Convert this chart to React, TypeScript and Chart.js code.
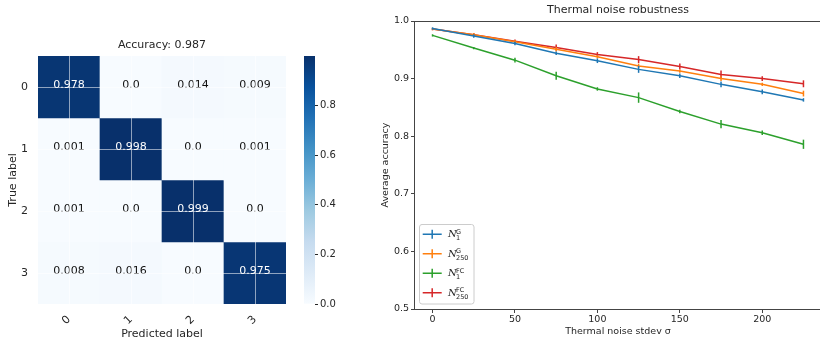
import React, { useEffect, useRef } from 'react';
import { Chart, registerables } from 'chart.js';

Chart.register(...registerables);

// ---------- Confusion matrix data ----------
const classLabels = ['0', '1', '2', '3'];
const cmRow0 = [0.978, 0.0, 0.014, 0.009];
const cmRow1 = [0.001, 0.998, 0.0, 0.001];
const cmRow2 = [0.001, 0.0, 0.999, 0.0];
const cmRow3 = [0.008, 0.016, 0.0, 0.975];
const cmRows = [cmRow0, cmRow1, cmRow2, cmRow3];
const cmTitle = 'Accuracy: 0.987';
const colorbarTicks = [0.0, 0.2, 0.4, 0.6, 0.8];

// ---------- Thermal noise data ----------
const noiseSigma = [0, 25, 50, 75, 100, 125, 150, 175, 200, 225];
const accG1 = [0.987, 0.974, 0.961, 0.944, 0.931, 0.916, 0.905, 0.890, 0.877, 0.863];
const errG1 = [0.002, 0.003, 0.003, 0.003, 0.004, 0.006, 0.004, 0.005, 0.004, 0.003];
const accG250 = [0.986, 0.976, 0.964, 0.951, 0.938, 0.922, 0.913, 0.900, 0.890, 0.874];
const errG250 = [0.002, 0.003, 0.003, 0.004, 0.003, 0.004, 0.003, 0.004, 0.003, 0.005];
const accFC1 = [0.975, 0.953, 0.932, 0.905, 0.882, 0.867, 0.843, 0.821, 0.806, 0.786];
const errFC1 = [0.002, 0.002, 0.004, 0.007, 0.003, 0.009, 0.003, 0.007, 0.004, 0.008];
const accFC250 = [0.986, 0.976, 0.965, 0.954, 0.942, 0.933, 0.921, 0.907, 0.900, 0.891];
const errFC250 = [0.002, 0.003, 0.003, 0.005, 0.004, 0.006, 0.005, 0.007, 0.004, 0.006];
const seriesNames = ['G1', 'G250', 'FC1', 'FC250'];
const seriesSup = ['G', 'G', 'FC', 'FC'];
const seriesSub = ['1', '250', '1', '250'];
const xTickValues = [0, 50, 100, 150, 200];
const yTickValues = [0.5, 0.6, 0.7, 0.8, 0.9, 1.0];
const lineTitle = 'Thermal noise robustness';

const FONT = '"DejaVu Sans", sans-serif';
const TEXT = '#262626';
const BLUES = ['#f7fbff', '#deebf7', '#c6dbef', '#9ecae1', '#6baed6', '#4292c6', '#2171b5', '#08519c', '#08306b'];
const COLORS = ['#1f77b4', '#ff7f0e', '#2ca02c', '#d62728'];

function hexToRgb(h: string) {
  const n = parseInt(h.slice(1), 16);
  return [(n >> 16) & 255, (n >> 8) & 255, n & 255];
}
function blues(t: number) {
  const tt = Math.max(0, Math.min(1, t));
  const p = tt * (BLUES.length - 1);
  const i = Math.min(BLUES.length - 2, Math.floor(p));
  const f = p - i;
  const a = hexToRgb(BLUES[i]);
  const b = hexToRgb(BLUES[i + 1]);
  const c = a.map((v, k) => Math.round(v + (b[k] - v) * f));
  return `rgb(${c[0]},${c[1]},${c[2]})`;
}
function fmt(v: number) {
  return v === 0 ? '0.0' : String(v);
}

export default function App() {
  const cmRef = useRef<HTMLCanvasElement>(null);
  const cbRef = useRef<HTMLCanvasElement>(null);
  const lnRef = useRef<HTMLCanvasElement>(null);

  useEffect(() => {
    const vmax = Math.max(...cmRows.flat());

    const cmPlugin = {
      id: 'cmText',
      afterDatasetsDraw(chart: any) {
        const { ctx, chartArea } = chart;
        const x = chart.scales.x;
        const y = chart.scales.y;
        ctx.save();
        ctx.font = `11px ${FONT}`;
        ctx.textAlign = 'center';
        ctx.textBaseline = 'alphabetic';
        cmRows.forEach((row, r) =>
          row.forEach((v, c) => {
            ctx.fillStyle = v > vmax / 2 ? '#ffffff' : '#111111';
            ctx.fillText(fmt(v), x.getPixelForValue(c), y.getPixelForValue(r) + 0.5);
          })
        );
        ctx.fillStyle = TEXT;
        ctx.textBaseline = 'middle';
        ctx.fillText(cmTitle, (chartArea.left + chartArea.right) / 2, chartArea.top - 11);
        ctx.restore();
      },
    };

    const cm = new Chart(cmRef.current!, {
      type: 'bar',
      data: {
        labels: classLabels,
        datasets: cmRows.map((row, r) => ({
          label: 'row ' + classLabels[r],
          data: row.map(() => [r - 0.5, r + 0.5]),
          backgroundColor: row.map((v) => blues(v / vmax)),
          borderWidth: 0,
          grouped: false,
          barPercentage: 1,
          categoryPercentage: 1,
        })) as any,
      },
      options: {
        animation: false,
        responsive: false,
        maintainAspectRatio: false,
        layout: { padding: { top: 56, right: 14, left: 0, bottom: 0 } },
        plugins: { legend: { display: false }, tooltip: { enabled: false } },
        scales: {
          x: {
            type: 'category',
            offset: true,
            grid: { offset: false, color: 'rgba(255,255,255,0.55)', lineWidth: 1, drawTicks: false, z: 1 },
            border: { display: false },
            ticks: { color: TEXT, font: { family: FONT, size: 11 }, minRotation: 45, maxRotation: 45, padding: 9 },
            title: { display: true, text: 'Predicted label', color: TEXT, font: { family: FONT, size: 11 }, padding: { top: 0, bottom: 4.4 } },
            afterFit: (s: any) => { s.height = 41; },
          },
          y: {
            type: 'linear',
            min: -0.5,
            max: 3.5,
            reverse: true,
            afterBuildTicks: (s: any) => { s.ticks = classLabels.map((_, i) => ({ value: i })); },
            grid: { color: 'rgba(255,255,255,0.55)', lineWidth: 1, drawTicks: false, z: 1 },
            border: { display: false },
            ticks: { color: TEXT, font: { family: FONT, size: 11 }, padding: 10, callback: (v: any) => classLabels[v] },
            title: { display: true, text: 'True label', color: TEXT, font: { family: FONT, size: 11 }, padding: { top: 6.4, bottom: 0 } },
            afterFit: (s: any) => { s.width = 38; },
          },
        },
      } as any,
      plugins: [cmPlugin],
    });

    const cb = new Chart(cbRef.current!, {
      type: 'bar',
      data: {
        labels: [''],
        datasets: [
          {
            label: 'colorbar',
            data: [[0, vmax]] as any,
            backgroundColor: (c: any) => {
              const ca = c.chart.chartArea;
              if (!ca) return BLUES[4];
              const g = c.chart.ctx.createLinearGradient(0, ca.bottom, 0, ca.top);
              BLUES.forEach((col, i) => g.addColorStop(i / (BLUES.length - 1), col));
              return g;
            },
            borderWidth: 0,
            barPercentage: 1,
            categoryPercentage: 1,
          },
        ],
      },
      options: {
        animation: false,
        responsive: false,
        maintainAspectRatio: false,
        layout: { padding: { top: 56, left: 14, right: 0, bottom: 41 } },
        plugins: { legend: { display: false }, tooltip: { enabled: false } },
        scales: {
          x: { display: false },
          y: {
            position: 'right',
            min: 0,
            max: vmax,
            afterBuildTicks: (s: any) => { s.ticks = colorbarTicks.map((v) => ({ value: v })); },
            ticks: { color: TEXT, font: { family: FONT, size: 10 }, padding: 2, callback: (v: any) => Number(v).toFixed(1) },
            grid: { drawOnChartArea: false, drawTicks: true, tickLength: 3, color: TEXT },
            border: { display: false },
            afterFit: (s: any) => { s.width = 35; },
          },
        },
      } as any,
    });

    const accs = [accG1, accG250, accFC1, accFC250];
    const errs = [errG1, errG250, errFC1, errFC250];

    const errPlugin = {
      id: 'errbars',
      afterDatasetDraw(chart: any, args: any) {
        const i = args.index;
        const { ctx } = chart;
        const x = chart.scales.x;
        const y = chart.scales.y;
        ctx.save();
        ctx.strokeStyle = COLORS[i];
        ctx.lineWidth = 1.5;
        accs[i].forEach((v, k) => {
          const px = x.getPixelForValue(noiseSigma[k]);
          ctx.beginPath();
          ctx.moveTo(px, y.getPixelForValue(v - errs[i][k]));
          ctx.lineTo(px, y.getPixelForValue(v + errs[i][k]));
          ctx.stroke();
        });
        ctx.restore();
      },
      afterDraw(chart: any) {
        const { ctx, chartArea } = chart;
        ctx.save();
        ctx.strokeStyle = '#444';
        ctx.lineWidth = 1;
        ctx.beginPath();
        ctx.moveTo(chartArea.left, chartArea.top + 0.5);
        ctx.lineTo(chartArea.right, chartArea.top + 0.5);
        ctx.lineTo(chartArea.right, chartArea.bottom);
        ctx.stroke();
        ctx.fillStyle = TEXT;
        ctx.font = `11px ${FONT}`;
        ctx.textAlign = 'center';
        ctx.textBaseline = 'middle';
        ctx.fillText(lineTitle, (chartArea.left + chartArea.right) / 2, chartArea.top - 11);
        const bx = chartArea.left + 5;
        const by = chartArea.bottom - 5 - 80;
        const bw = 55;
        const bh = 80;
        ctx.fillStyle = 'rgba(255,255,255,0.8)';
        ctx.strokeStyle = '#cccccc';
        ctx.beginPath();
        const r = 2.5;
        ctx.moveTo(bx + r, by + 0.5);
        ctx.arcTo(bx + bw, by + 0.5, bx + bw, by + bh, r);
        ctx.arcTo(bx + bw, by + bh, bx, by + bh, r);
        ctx.arcTo(bx + 0.5, by + bh, bx + 0.5, by, r);
        ctx.arcTo(bx + 0.5, by + 0.5, bx + bw, by + 0.5, r);
        ctx.closePath();
        ctx.fill();
        ctx.stroke();
        seriesNames.forEach((_, i) => {
          const cy = by + 10.3 + i * 19.45;
          ctx.strokeStyle = COLORS[i];
          ctx.lineWidth = 1.5;
          ctx.beginPath();
          ctx.moveTo(bx + 3.7, cy);
          ctx.lineTo(bx + 22.7, cy);
          ctx.moveTo(bx + 13.2, cy - 4.5);
          ctx.lineTo(bx + 13.2, cy + 4.5);
          ctx.stroke();
          ctx.fillStyle = TEXT;
          ctx.textAlign = 'left';
          ctx.textBaseline = 'alphabetic';
          ctx.font = `italic 10px "DejaVu Serif", serif`;
          const tx = bx + 29;
          ctx.fillText('N', tx, cy + 3);
          ctx.font = `6.5px ${FONT}`;
          ctx.fillText(seriesSup[i], tx + 8, cy - 0.5);
          ctx.fillText(seriesSub[i], tx + 8, cy + 6);
        });
        ctx.restore();
      },
    };

    const ln = new Chart(lnRef.current!, {
      type: 'line',
      data: {
        datasets: accs.map((arr, i) => ({
          label: seriesNames[i],
          data: arr.map((v, k) => ({ x: noiseSigma[k], y: v })),
          borderColor: COLORS[i],
          backgroundColor: COLORS[i],
          borderWidth: 1.5,
          pointRadius: 0,
          fill: false,
          tension: 0,
        })),
      },
      options: {
        animation: false,
        responsive: false,
        maintainAspectRatio: false,
        layout: { padding: { top: 21, right: 8, left: 0, bottom: 0 } },
        plugins: { legend: { display: false }, tooltip: { enabled: false } },
        scales: {
          x: {
            type: 'linear',
            min: -11.25,
            max: 236.25,
            afterBuildTicks: (s: any) => { s.ticks = xTickValues.map((v) => ({ value: v })); },
            ticks: { color: TEXT, font: { family: FONT, size: 9.5 }, padding: 1, callback: (v: any) => String(v) },
            grid: { drawOnChartArea: false, drawTicks: true, tickLength: 4, color: '#444' },
            border: { display: true, color: '#444', width: 1 },
            title: { display: true, text: 'Thermal noise stdev σ', color: TEXT, font: { family: FONT, size: 9.5 }, padding: { top: 0, bottom: 7.5 } },
            afterFit: (s: any) => { s.height = 36; },
          },
          y: {
            type: 'linear',
            min: 0.5,
            max: 1.0,
            afterBuildTicks: (s: any) => { s.ticks = yTickValues.map((v) => ({ value: v })); },
            ticks: { color: TEXT, font: { family: FONT, size: 9.5 }, padding: 2, callback: (v: any) => Number(v).toFixed(1) },
            grid: { drawOnChartArea: false, drawTicks: true, tickLength: 3, color: '#444' },
            border: { display: true, color: '#444', width: 1 },
            title: { display: true, text: 'Average accuracy', color: TEXT, font: { family: FONT, size: 9.5 }, padding: { top: 9.4, bottom: 0 } },
            afterFit: (s: any) => { s.width = 44; },
          },
        },
      } as any,
      plugins: [errPlugin],
    });

    return () => {
      cm.destroy();
      cb.destroy();
      ln.destroy();
    };
  }, []);

  return (
    <div style={{ position: 'fixed', left: 0, top: 0, width: 820, height: 345, overflow: 'hidden', background: '#fff' }}>
      <canvas ref={cmRef} width={300} height={345} style={{ position: 'absolute', left: 0, top: 0, width: 300, height: 345 }} />
      <canvas ref={cbRef} width={60} height={345} style={{ position: 'absolute', left: 290, top: 0, width: 60, height: 345 }} />
      <canvas ref={lnRef} width={460} height={345} style={{ position: 'absolute', left: 370, top: 0, width: 460, height: 345 }} />
    </div>
  );
}
